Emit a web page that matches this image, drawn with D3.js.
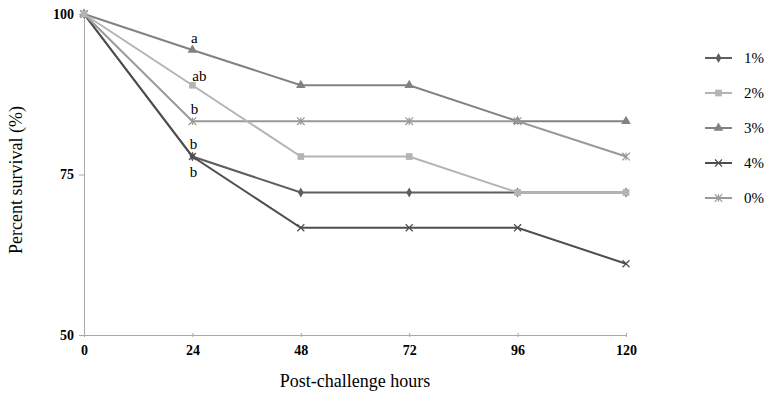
<!DOCTYPE html>
<html>
<head>
<meta charset="utf-8">
<script src="https://cdn.jsdelivr.net/npm/d3@7"></script>
<style>
  body { margin: 0; background: #fff; }
  text { font-family: "Liberation Serif", "Times New Roman", serif; }
</style>
</head>
<body>
<div id="chart"></div>
<script>
// data
const hours = [0, 24, 48, 72, 96, 120];
const yTicks = [50, 75, 100];
const seriesNames = ['1%', '2%', '3%', '4%', '0%'];
const s1 = [100, 77.8, 72.2, 72.2, 72.2, 72.2];
const s2 = [100, 88.9, 77.8, 77.8, 72.2, 72.2];
const s3 = [100, 94.4, 88.9, 88.9, 83.3, 83.3];
const s4 = [100, 77.8, 66.7, 66.7, 66.7, 61.1];
const s0 = [100, 83.3, 83.3, 83.3, 83.3, 77.8];
// significance letters at 24 h
const letters = [
  { series: '3%', text: 'a', dx: 2, dy: -7 },
  { series: '2%', text: 'ab', dx: 7, dy: -4 },
  { series: '0%', text: 'b', dx: 2, dy: -7 },
  { series: '1%', text: 'b', dx: 1, dy: -8 },
  { series: '4%', text: 'b', dx: 1, dy: 20 }
];

const series = [
  { name: '1%', values: s1, color: '#5e5e5e', symbol: 'diamond' },
  { name: '2%', values: s2, color: '#b4b4b4', symbol: 'square' },
  { name: '3%', values: s3, color: '#828282', symbol: 'triangle' },
  { name: '4%', values: s4, color: '#4e4e4e', symbol: 'cross' },
  { name: '0%', values: s0, color: '#999999', symbol: 'star' }
];
// drawing order: later ones on top
const drawOrder = ['1%', '4%', '3%', '0%', '2%'];

const W = 765, H = 395;
const svg = d3.select('#chart').append('svg')
  .attr('width', W).attr('height', H);

const x = d3.scaleLinear().domain([0, 120]).range([84, 626]);
const y = d3.scaleLinear().domain([50, 100]).range([335, 14]);

const axisColor = '#a8a8a8';

// y axis
const yAxis = svg.append('g').attr('transform', 'translate(84,0)')
  .call(d3.axisLeft(y).tickValues(yTicks).tickSize(5).tickPadding(5).tickFormat(d3.format('d')));
yAxis.select('.domain').attr('stroke', axisColor);
yAxis.selectAll('.tick line').attr('stroke', axisColor);
yAxis.selectAll('.tick text').attr('fill', '#000').attr('font-size', 14)
  .attr('font-weight', 'bold');

// x axis
const xAxis = svg.append('g').attr('transform', 'translate(0,335)')
  .call(d3.axisBottom(x).tickValues(hours).tickSize(4).tickPadding(6).tickSizeOuter(0).tickFormat(d3.format('d')));
xAxis.select('.domain').attr('stroke', axisColor);
xAxis.selectAll('.tick line').attr('stroke', axisColor).attr('y1', -2).attr('y2', 2);
xAxis.selectAll('.tick text').attr('fill', '#000').attr('font-size', 14)
  .attr('font-weight', 'bold');

// axis titles
svg.append('text')
  .attr('x', 355).attr('y', 387)
  .attr('text-anchor', 'middle').attr('font-size', 18)
  .text('Post-challenge hours');

svg.append('text')
  .attr('transform', 'translate(22,180) rotate(-90)')
  .attr('text-anchor', 'middle').attr('font-size', 18)
  .text('Percent survival (%)');

const line = d3.line().x((d, i) => x(hours[i])).y(d => y(d));

function symbolPath(kind) {
  if (kind === 'diamond') return d3.symbol(d3.symbolDiamond, 28)();
  if (kind === 'square') return d3.symbol(d3.symbolSquare, 45)();
  if (kind === 'triangle') return d3.symbol(d3.symbolTriangle, 40)();
  return null;
}

function drawMarker(g, kind, color, cx, cy) {
  if (kind === 'cross') {
    const r = 3.5;
    g.append('path')
      .attr('d', `M${cx - r},${cy - r}L${cx + r},${cy + r}M${cx - r},${cy + r}L${cx + r},${cy - r}`)
      .attr('stroke', color).attr('stroke-width', 1.2).attr('fill', 'none');
  } else if (kind === 'star') {
    const r = 3.8;
    g.append('path')
      .attr('d', `M${cx - r},${cy - r}L${cx + r},${cy + r}M${cx - r},${cy + r}L${cx + r},${cy - r}M${cx},${cy - r}L${cx},${cy + r}`)
      .attr('stroke', color).attr('stroke-width', 1.2).attr('fill', 'none');
  } else {
    g.append('path')
      .attr('d', symbolPath(kind))
      .attr('transform', `translate(${cx},${cy})`)
      .attr('fill', color);
  }
}

const plot = svg.append('g');
drawOrder.forEach(name => {
  const s = series.find(d => d.name === name);
  const g = plot.append('g');
  g.append('path')
    .attr('d', line(s.values))
    .attr('fill', 'none')
    .attr('stroke', s.color)
    .attr('stroke-width', 2);
  s.values.forEach((v, i) => drawMarker(g, s.symbol, s.color, x(hours[i]), y(v)));
});

// letters
letters.forEach(l => {
  const s = series.find(d => d.name === l.series);
  svg.append('text')
    .attr('x', x(24) + l.dx).attr('y', y(s.values[1]) + l.dy)
    .attr('text-anchor', 'middle').attr('font-size', 15).attr('fill', '#000')
    .text(l.text);
});

// legend
const legend = svg.append('g');
seriesNames.forEach((name, i) => {
  const s = series.find(d => d.name === name);
  const ly = 58 + i * 35;
  const g = legend.append('g');
  g.append('line').attr('x1', 705).attr('x2', 732).attr('y1', ly).attr('y2', ly)
    .attr('stroke', s.color).attr('stroke-width', 2);
  drawMarker(g, s.symbol, s.color, 718.5, ly);
  g.append('text').attr('x', 744).attr('y', ly + 5).attr('font-size', 15).attr('fill', '#000').text(name);
});
</script>
</body>
</html>
